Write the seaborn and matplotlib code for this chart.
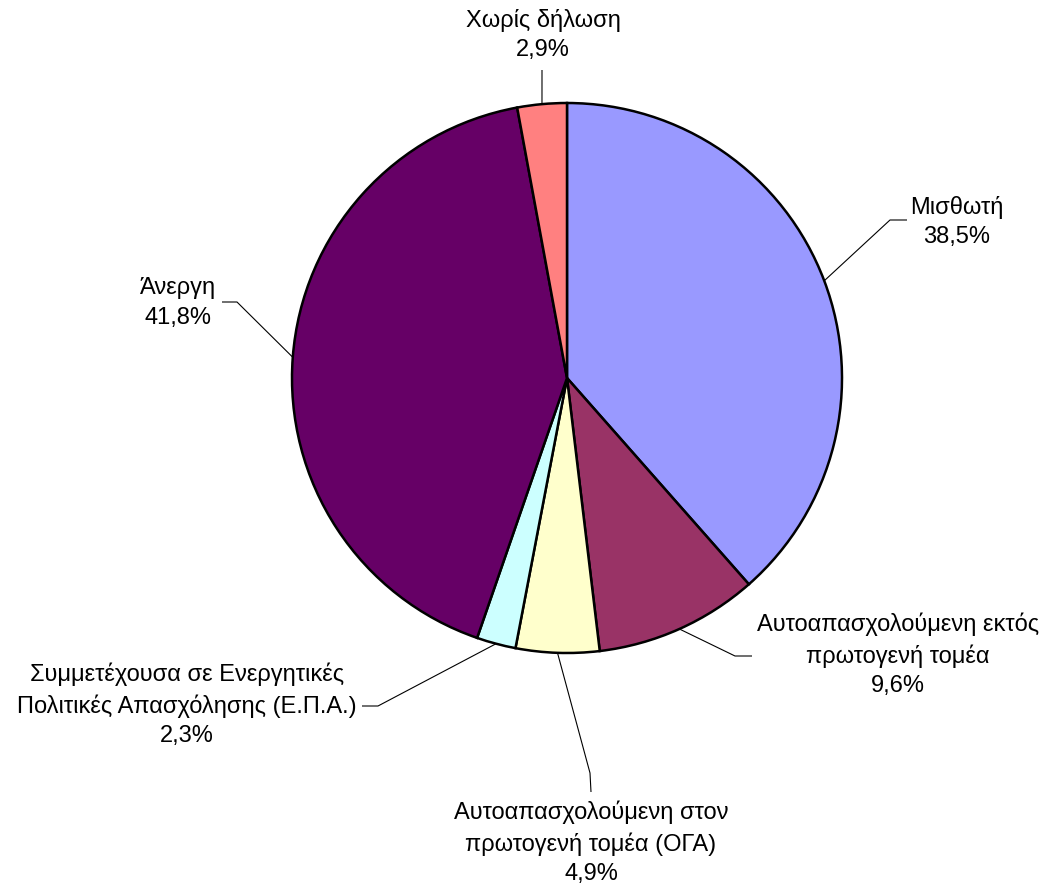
import matplotlib
matplotlib.use("Agg")
import numpy as np
import matplotlib.pyplot as plt
import seaborn as sns

categories = [
    "Μισθωτή",
    "Αυτοαπασχολούμενη εκτός\nπρωτογενή τομέα",
    "Αυτοαπασχολούμενη στον\nπρωτογενή τομέα (ΟΓΑ)",
    "Συμμετέχουσα σε Ενεργητικές\nΠολιτικές Απασχόλησης (Ε.Π.Α.)",
    "Άνεργη",
    "Χωρίς δήλωση",
]
shares = [38.5, 9.6, 4.9, 2.3, 41.8, 2.9]
colors = ["#9999FF", "#993366", "#FFFFCC", "#CCFFFF", "#660066", "#FF8080"]

# label layout in image pixels: text centre, leader elbow, leader end
label_pos = [(957, 222), (898, 655), (591, 843), (187, 705), (178, 303), (543, 35)]
elbows = [(890, 220), (735, 656), (590, 773), (378, 706), (237, 302), (542, 70)]
ends = [(907, 220), (752, 656), (591, 792), (362, 706), (222, 302), (542, 70)]

W, H = 1046, 886
CX, CY, R = 567, 378, 275


def to_data(p):
    return ((p[0] - CX) / R, (CY - p[1]) / R)


sns.set_theme(style="white")
plt.rcParams['font.family'] = ['Liberation Sans', 'DejaVu Sans']

fig = plt.figure(figsize=(W / 100, H / 100), dpi=100)
ax = fig.add_axes([0, 0, 1, 1])

wedges, _ = ax.pie(shares, colors=colors, startangle=90, counterclock=False,
                   radius=1, center=(0, 0),
                   wedgeprops=dict(edgecolor='black', linewidth=1.8))

for w, name, val, tp, el, en in zip(wedges, categories, shares, label_pos, elbows, ends):
    mid = np.deg2rad((w.theta1 + w.theta2) / 2)
    start = (np.cos(mid), np.sin(mid))
    e1, e2 = to_data(el), to_data(en)
    ax.plot([start[0], e1[0], e2[0]], [start[1], e1[1], e2[1]],
            color='black', lw=0.8, solid_capstyle='butt')
    pct = f"{val:.1f}".replace('.', ',') + '%'
    tx, ty = to_data(tp)
    ax.text(tx, ty, f"{name}\n{pct}", ha='center', va='center',
            multialignment='center', fontsize=17, linespacing=1.45, color='black')

ax.set_xlim(-CX / R, (W - CX) / R)
ax.set_ylim(-(H - CY) / R, CY / R)
ax.set_aspect('equal')
ax.axis('off')

fig.savefig("out.png", dpi=100, facecolor='white')
